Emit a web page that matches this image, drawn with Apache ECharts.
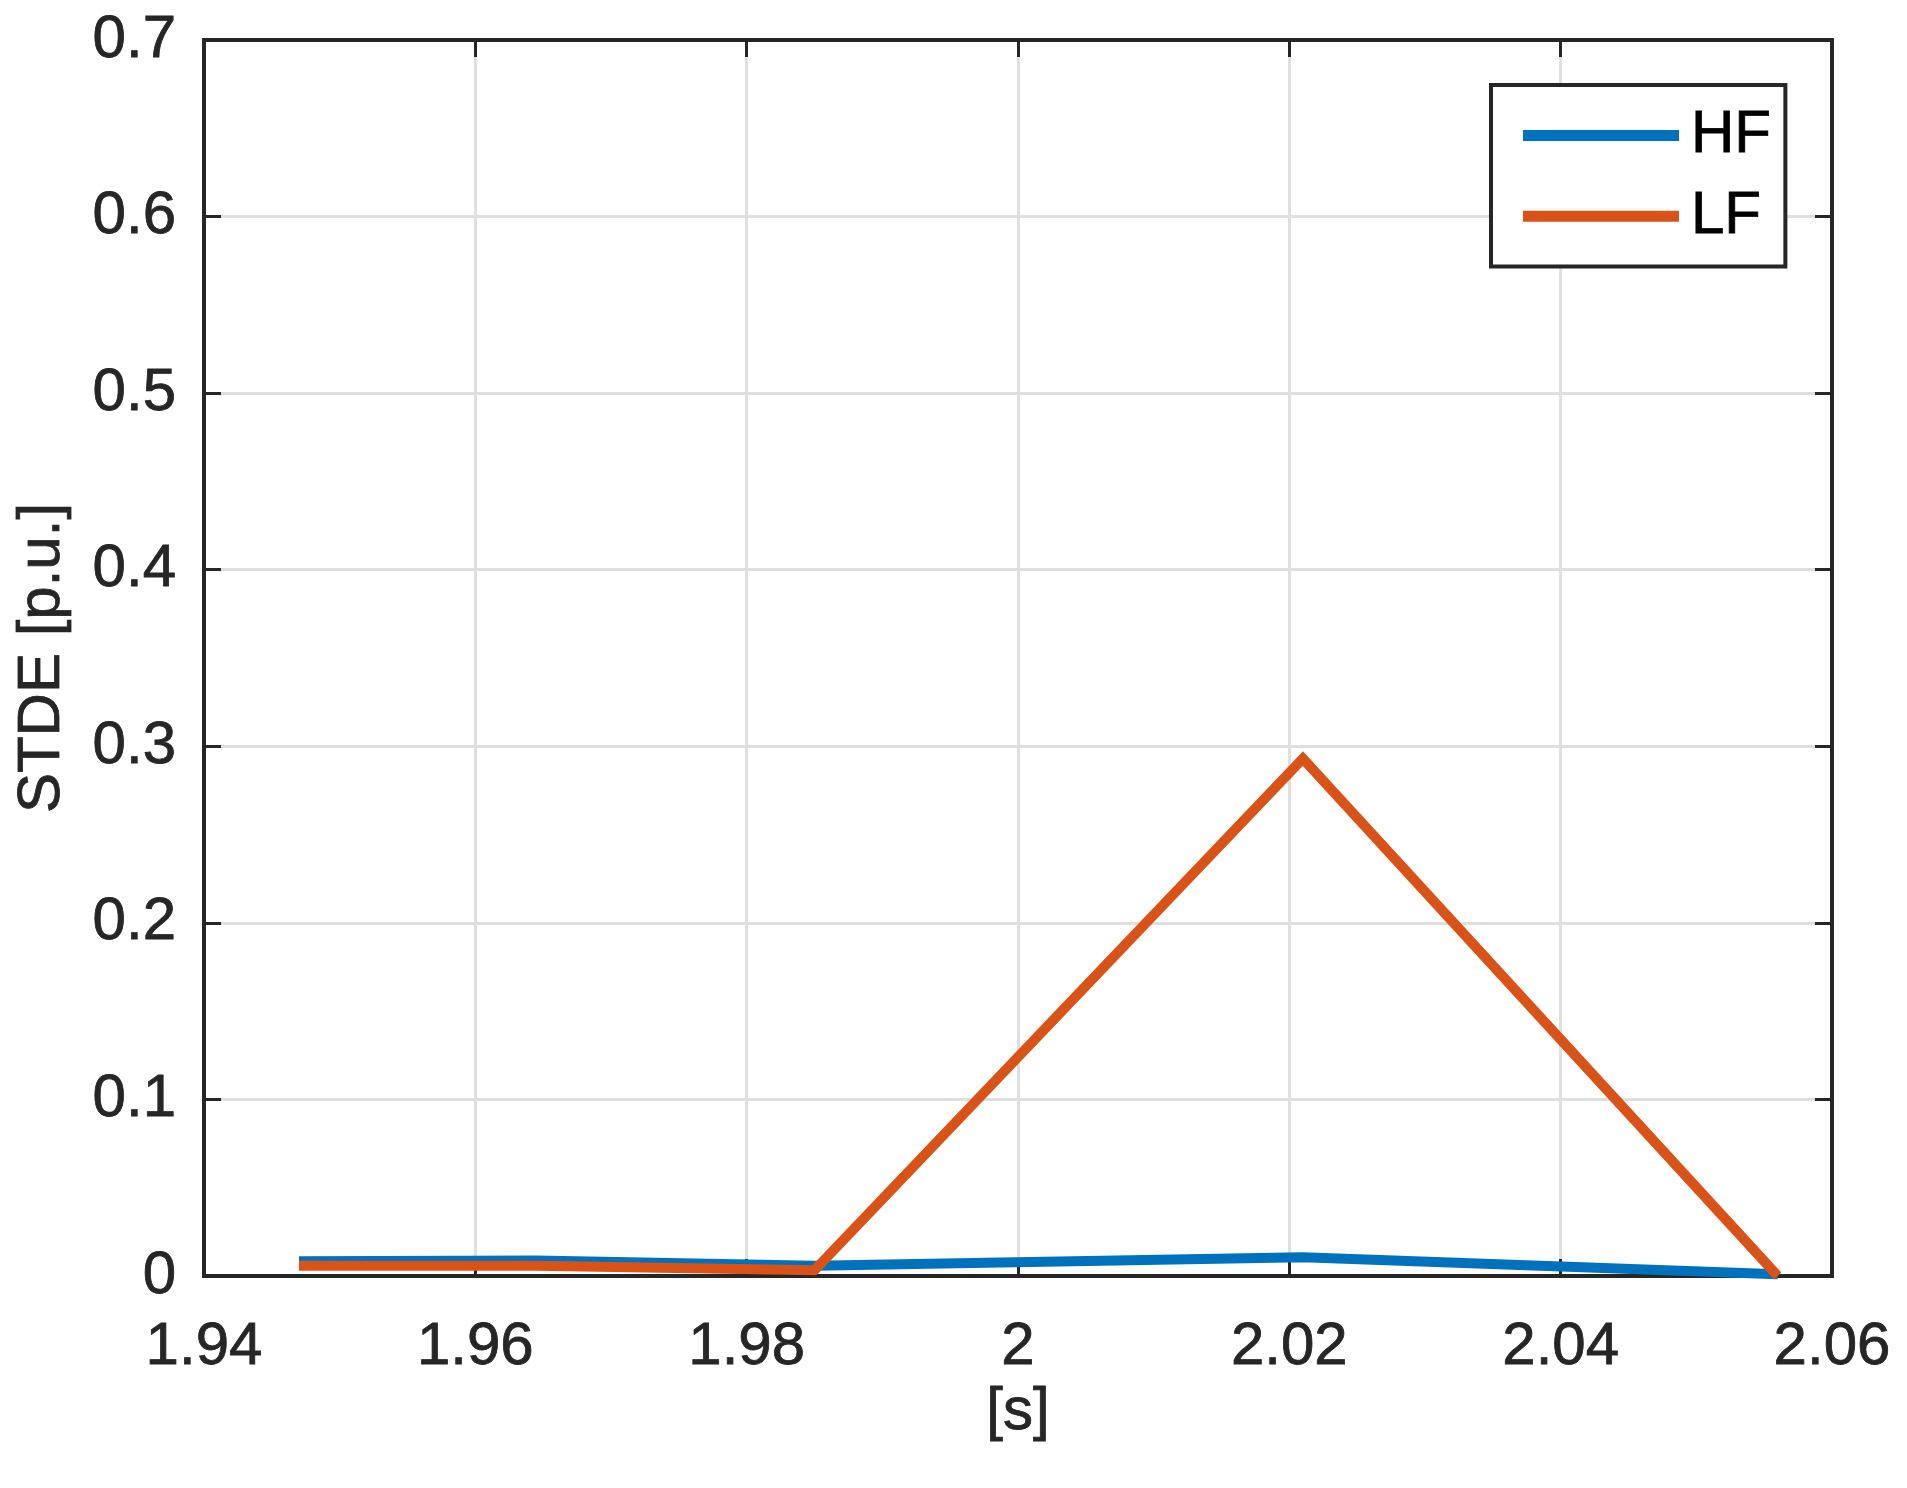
<!DOCTYPE html>
<html>
<head>
<meta charset="utf-8">
<script src="https://cdn.jsdelivr.net/npm/echarts@6/dist/echarts.min.js"></script>
<style>
html,body{margin:0;padding:0;background:#fff;}
#c{width:1907px;height:1488px;}
</style>
</head>
<body>
<div id="c"></div>
<script>
// ---- data ----
const timeS = [1.947, 1.9645, 1.985, 2.021, 2.056];
const hfValues = [0.0083, 0.0088, 0.0058, 0.0106, 0.001];
const lfValues = [0.0058, 0.0058, 0.0033, 0.293, 0.0];
const xTicks = [1.94, 1.96, 1.98, 2.0, 2.02, 2.04, 2.06];
const yTicks = [0, 0.1, 0.2, 0.3, 0.4, 0.5, 0.6, 0.7];
const seriesNames = ['HF', 'LF'];

const FONT = "'Liberation Sans', Arial, Helvetica, sans-serif";
const DARK = '#262626';
const fmt = v => String(Number(v.toFixed(4)));

const xMin = xTicks[0], xMax = xTicks[xTicks.length - 1];
const xInt = Number((xTicks[1] - xTicks[0]).toFixed(4));
const yMin = yTicks[0], yMax = yTicks[yTicks.length - 1];
const yInt = Number((yTicks[1] - yTicks[0]).toFixed(4));

function pairs(xs, ys) { return xs.map((x, i) => [x, ys[i]]); }

const chart = echarts.init(document.getElementById('c'), null, {renderer: 'canvas'});

const baseTick = {show: true, inside: true, length: 17, lineStyle: {color: DARK, width: 3}};
const txt = (color) => ({fontFamily: FONT, fontSize: 60, color: color, textBorderColor: color, textBorderWidth: 0.8});

chart.setOption({
  animation: false,
  backgroundColor: '#ffffff',
  textStyle: {fontFamily: FONT},
  grid: {left: 204, right: 75, top: 40, bottom: 212, show: true, borderColor: DARK, borderWidth: 4, containLabel: false},
  legend: {
    show: true,
    orient: 'vertical',
    left: 1491,
    top: 85,
    data: seriesNames,
    icon: 'rect',
    itemWidth: 156,
    itemHeight: 11,
    itemGap: 20,
    padding: [20, 14, 20, 32],
    borderColor: DARK,
    borderWidth: 4,
    backgroundColor: '#ffffff',
    textStyle: Object.assign(txt('#000'), {lineHeight: 60, padding: [0, 0, 0, 7]}),
    selectedMode: false
  },
  xAxis: [{
    type: 'value', position: 'bottom', min: xMin, max: xMax, interval: xInt,
    name: '[s]', nameLocation: 'middle', nameGap: 98,
    nameTextStyle: txt(DARK),
    axisLine: {show: true, onZero: false, lineStyle: {color: DARK, width: 4}},
    axisTick: baseTick,
    axisLabel: Object.assign(txt(DARK), {show: true, margin: 41, formatter: fmt}),
    splitLine: {show: true, lineStyle: {color: '#dfdfdf', width: 3}}
  }, {
    type: 'value', position: 'top', min: xMin, max: xMax, interval: xInt,
    axisLine: {show: true, onZero: false, lineStyle: {color: DARK, width: 4}},
    axisTick: baseTick,
    axisLabel: {show: false},
    splitLine: {show: false}
  }],
  yAxis: [{
    type: 'value', position: 'left', min: yMin, max: yMax, interval: yInt,
    name: 'STDE [p.u.]', nameLocation: 'middle', nameGap: 132, nameRotate: 90,
    nameTextStyle: txt(DARK),
    axisLine: {show: true, onZero: false, lineStyle: {color: DARK, width: 4}},
    axisTick: baseTick,
    axisLabel: Object.assign(txt(DARK), {show: true, margin: 28, formatter: fmt}),
    splitLine: {show: true, lineStyle: {color: '#dfdfdf', width: 3}}
  }, {
    type: 'value', position: 'right', min: yMin, max: yMax, interval: yInt,
    axisLine: {show: true, onZero: false, lineStyle: {color: DARK, width: 4}},
    axisTick: baseTick,
    axisLabel: {show: false},
    splitLine: {show: false}
  }],
  series: [{
    name: seriesNames[0], type: 'line', xAxisIndex: 0, yAxisIndex: 0,
    data: pairs(timeS, hfValues), showSymbol: false, symbol: 'none',
    itemStyle: {color: '#0072BD'},
    lineStyle: {color: '#0072BD', width: 10, join: 'miter'}, z: 3
  }, {
    name: seriesNames[1], type: 'line', xAxisIndex: 0, yAxisIndex: 0,
    data: pairs(timeS, lfValues), showSymbol: false, symbol: 'none',
    itemStyle: {color: '#D95319'},
    lineStyle: {color: '#D95319', width: 10, join: 'miter'}, z: 4
  }]
});
</script>
</body>
</html>
